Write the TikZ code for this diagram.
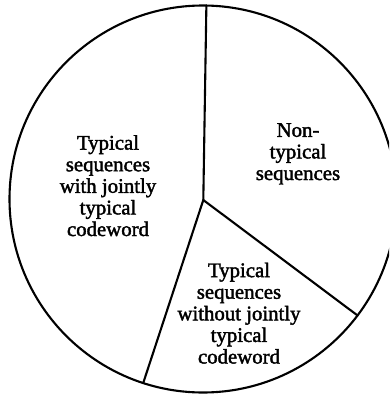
\documentclass[tikz,border=0pt]{standalone}
\usepackage{fontspec}
\setmainfont[FakeBold=1.8]{Liberation Serif}
\begin{document}
\begin{tikzpicture}[x=1pt,y=-1pt,
  edge/.style={line width=2.1pt, line cap=round, line join=round},
  lbl/.style={align=center, inner sep=0pt, anchor=north, font=\fontsize{20.8}{21.6}\selectfont}]
\useasboundingbox (0,0) rectangle (389,394);
\clip (0,0) rectangle (389,394);
\node[circle, draw, line width=2.1pt, minimum size=387pt, inner sep=0pt, outer sep=0pt] (disk) at (203,199) {};
\coordinate (J) at (203.3,200);
\draw[edge] (J) -- (disk.89.1);
\draw[edge] (J) -- (disk.-37.3);
\draw[edge] (J) -- (disk.-108.6);
\node[lbl] (left) at (108,135) {Typical\\sequences\\with jointly\\typical\\codeword};
\node[lbl] (right) at (298,123) {Non-\\typical\\sequences};
\node[lbl] (bottom) at (239,262.5) {Typical\\sequences\\without jointly\\typical\\codeword};
\end{tikzpicture}
\end{document}
